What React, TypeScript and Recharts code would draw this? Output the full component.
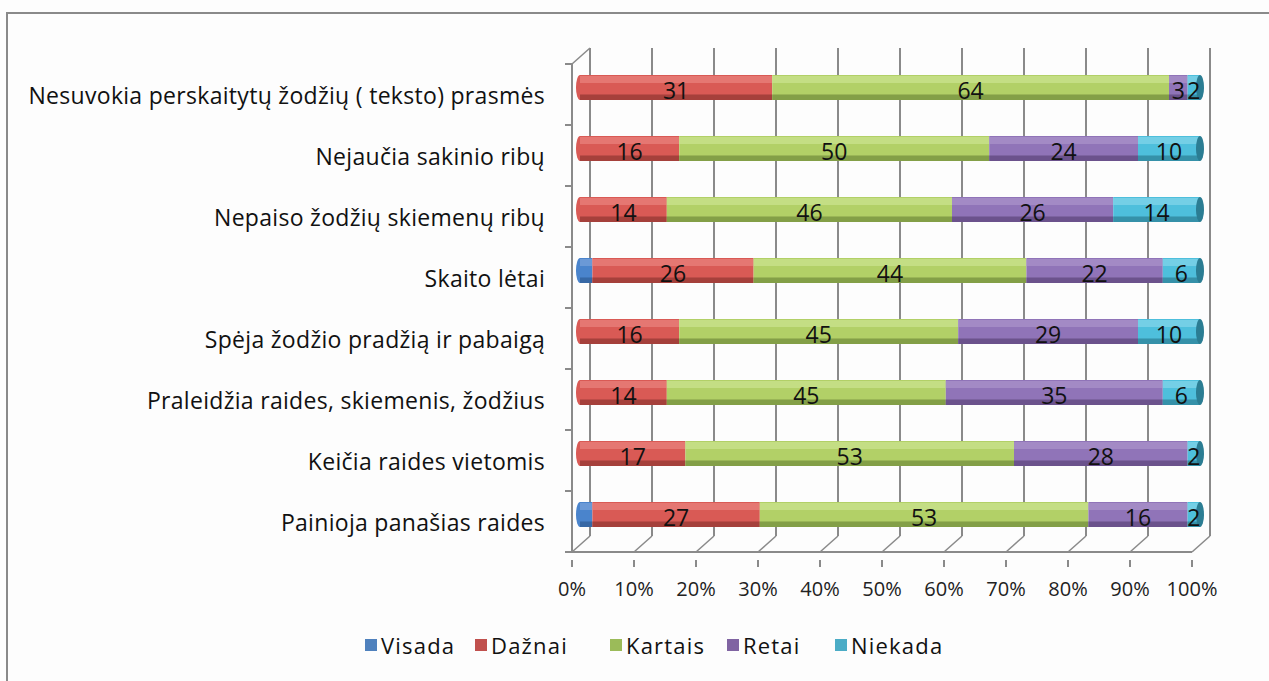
import { Bar, BarChart, CartesianGrid, LabelList, XAxis, YAxis } from "recharts";

const categories = [
  "Nesuvokia perskaitytų žodžių ( teksto) prasmės",
  "Nejaučia sakinio ribų",
  "Nepaiso žodžių skiemenų ribų",
  "Skaito lėtai",
  "Spėja žodžio pradžią ir pabaigą",
  "Praleidžia raides, skiemenis, žodžius",
  "Keičia raides vietomis",
  "Painioja panašias raides",
];
const visada = [0, 0, 0, 2, 0, 0, 0, 2];
const daznai = [31, 16, 14, 26, 16, 14, 17, 27];
const kartais = [64, 50, 46, 44, 45, 45, 53, 53];
const retai = [3, 24, 26, 22, 29, 35, 28, 16];
const niekada = [2, 10, 14, 6, 10, 6, 2, 2];
const xTicks = [0, 10, 20, 30, 40, 50, 60, 70, 80, 90, 100];

const series = [
  { key: "visada", name: "Visada", color: "#4F81BD", light: "#86acdf", base: "#4a84cc", dark: "#2f5c94", label: false },
  { key: "daznai", name: "Dažnai", color: "#C0504D", light: "#ee8f8a", base: "#d95a55", dark: "#8f3431", label: true },
  { key: "kartais", name: "Kartais", color: "#9BBB59", light: "#d4ea9c", base: "#b2d067", dark: "#6f8a3a", label: true },
  { key: "retai", name: "Retai", color: "#8064A2", light: "#b39cd0", base: "#9074b8", dark: "#5b4479", label: true },
  { key: "niekada", name: "Niekada", color: "#4BACC6", light: "#93dcef", base: "#4ebfdc", dark: "#2b7d93", label: true },
];
const legendLeft = [365, 475, 610, 727, 835];

const data = categories.map((name, i) => ({
  name,
  visada: visada[i],
  daznai: daznai[i],
  kartais: kartais[i],
  retai: retai[i],
  niekada: niekada[i],
}));

const FONT = "'Open Sans', sans-serif";
const FRONT_DX = -8;
const FRONT_DY = 7;
const BACK_DX = 10;
const BACK_DY = -9;
const GRID = "#8a8a8a";

function makeShape(idx: number) {
  const s = series[idx];
  return (props: any) => {
    const { x, y, width, height, payload } = props;
    if (!width || width <= 0) return <g />;
    let before = 0;
    for (let j = 0; j < idx; j++) before += Number(payload?.[series[j].key] ?? 0);
    let after = 0;
    for (let j = idx + 1; j < series.length; j++) after += Number(payload?.[series[j].key] ?? 0);
    const rx = 4;
    const cy = y + height / 2;
    return (
      <g>
        {before === 0 && <ellipse cx={x} cy={cy} rx={rx} ry={height / 2} fill={s.base} />}
        <rect x={x} y={y} width={width} height={height} fill={s.base} />
        <rect x={x} y={y + 1} width={width} height={height * 0.28} fill={s.light} opacity={0.55} />
        <rect x={x} y={y + height * 0.78} width={width} height={height * 0.22} fill={s.dark} opacity={0.7} />
        {after === 0 && <ellipse cx={x + width} cy={cy} rx={rx} ry={height / 2} fill={s.dark} />}
      </g>
    );
  };
}

const CategoryTick = (props: any) => {
  const { x, y, payload, index } = props;
  const half = 30.5;
  return (
    <g>
      <text x={x - 35} y={y + 10} textAnchor="end" dominantBaseline="middle" fontFamily={FONT} fontSize={23} letterSpacing={0.3} fill="#111">
        {payload.value}
      </text>
      <line x1={x + FRONT_DX - 7} x2={x + FRONT_DX} y1={y - half + FRONT_DY} y2={y - half + FRONT_DY} stroke={GRID} strokeWidth={2} />
      {index === categories.length - 1 && (
        <line x1={x + FRONT_DX - 7} x2={x + FRONT_DX} y1={y + half + FRONT_DY} y2={y + half + FRONT_DY} stroke={GRID} strokeWidth={2} />
      )}
    </g>
  );
};

const PercentTick = (props: any) => {
  const { x, y, payload } = props;
  return (
    <g>
      <line x1={x + FRONT_DX} x2={x + FRONT_DX} y1={y + FRONT_DY} y2={y + FRONT_DY + 7} stroke={GRID} strokeWidth={2} />
      <text x={x + FRONT_DX} y={y + 38} textAnchor="middle" dominantBaseline="middle" fontFamily={FONT} fontSize={20} fill="#222">
        {payload.value}%
      </text>
    </g>
  );
};

const gridLine = (props: any) => {
  const { x1, y1, y2, index } = props;
  return (
    <g key={`v-${index}`}>
      <line x1={x1 + BACK_DX} x2={x1 + BACK_DX} y1={y1 + BACK_DY} y2={y2 + BACK_DY} stroke={GRID} strokeWidth={2} />
      <line x1={x1 + BACK_DX} x2={x1 + FRONT_DX} y1={y2 + BACK_DY} y2={y2 + FRONT_DY} stroke={GRID} strokeWidth={1.5} />
      {index === 0 && (
        <>
          <line x1={x1 + BACK_DX} x2={x1 + FRONT_DX} y1={y1 + BACK_DY} y2={y1 + FRONT_DY} stroke={GRID} strokeWidth={1.5} />
          <line x1={x1 + FRONT_DX} x2={x1 + FRONT_DX} y1={y1 + FRONT_DY} y2={y2 + FRONT_DY} stroke={GRID} strokeWidth={2} />
        </>
      )}
      {index === xTicks.length - 1 && (
        <line x1={x1 + FRONT_DX - 622} x2={x1 + FRONT_DX} y1={y2 + FRONT_DY} y2={y2 + FRONT_DY} stroke={GRID} strokeWidth={2} />
      )}
    </g>
  );
};

export default function App() {
  return (
    <div style={{ position: "absolute", left: 0, top: 0, width: 1269, height: 681, background: "#fdfdfd", overflow: "hidden" }}>
      <div style={{ position: "absolute", left: 6, top: 12, width: 1300, height: 700, borderLeft: "2px solid #8a8a8a", borderTop: "2px solid #8a8a8a" }} />
      <BarChart
        layout="vertical"
        width={1269}
        height={681}
        data={data}
        barSize={25}
        margin={{ top: 57, right: 69, bottom: 0, left: 0 }}
        style={{ position: "absolute", left: 0, top: 0 }}
      >
        <CartesianGrid horizontal={false} vertical={gridLine} />
        <XAxis
          type="number"
          domain={[0, 100]}
          ticks={xTicks}
          interval={0}
          axisLine={false}
          tickLine={false}
          tick={<PercentTick />}
          height={136}
        />
        <YAxis
          type="category"
          dataKey="name"
          width={580}
          axisLine={false}
          tickLine={false}
          tickSize={0}
          tickMargin={0}
          interval={0}
          tick={<CategoryTick />}
        />
        {series.map((s, i) => (
          <Bar key={s.key} dataKey={s.key} name={s.name} stackId="a" fill={s.base} isAnimationActive={false} shape={makeShape(i)}>
            {s.label && (
              <LabelList
                dataKey={s.key}
                position="center"
                content={(p: any) => {
                  const { x, y, width, height, value } = p;
                  if (!value) return null;
                  return (
                    <text x={x + width / 2} y={y + height / 2 + 5} textAnchor="middle" dominantBaseline="middle" fontFamily={FONT} fontSize={23} fill="#111">
                      {value}
                    </text>
                  );
                }}
              />
            )}
          </Bar>
        ))}
      </BarChart>
      {series.map((s, i) => (
        <div
          key={s.key}
          style={{
            position: "absolute",
            left: legendLeft[i],
            top: 630,
            display: "flex",
            alignItems: "center",
            fontFamily: FONT,
            fontSize: 22,
            letterSpacing: 1.2,
            color: "#111",
            lineHeight: "30px",
            whiteSpace: "nowrap",
          }}
        >
          <span style={{ display: "inline-block", width: 12, height: 12, background: s.color, marginRight: 4 }} />
          {s.name}
        </div>
      ))}
    </div>
  );
}
